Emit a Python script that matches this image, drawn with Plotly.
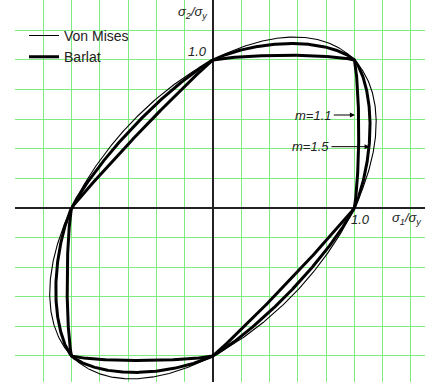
import numpy as np
import plotly.graph_objects as go

# Yield-function exponents: m = 2 reproduces the von Mises ellipse,
# smaller m gives the Barlat (1989, isotropic) loci labelled on the plot.
VON_MISES_EXPONENT = 2.0
BARLAT_EXPONENTS = [1.1, 1.5]
BARLAT_LABELS = ["m=1.1", "m=1.5"]
# Where each label arrow starts and ends (normalised stress units).
ARROW_TAIL_X = [0.855, 0.838]
ARROW_TIP_X = [1.004, 1.108]
ARROW_Y = [0.628, 0.414]

N_POINTS = 1441


def yield_locus(m, n=N_POINTS):
    """Return s1, s2 on |s1|^m + |s2|^m + |s1 - s2|^m = 2 (stresses / sigma_y)."""
    theta = np.linspace(0.0, 2.0 * np.pi, n)
    c, s = np.cos(theta), np.sin(theta)
    f = np.abs(c) ** m + np.abs(s) ** m + np.abs(c - s) ** m
    r = (2.0 / f) ** (1.0 / m)
    return r * c, r * s


FONT = "Arial, Liberation Sans, sans-serif"
TEXT_FONT = dict(family=FONT, size=13, color="#222")
fig = go.Figure()

x_vm, y_vm = yield_locus(VON_MISES_EXPONENT)
fig.add_trace(go.Scatter(x=x_vm, y=y_vm, mode="lines", name="Von Mises",
                         line=dict(color="black", width=1.1)))

for i, m in enumerate(BARLAT_EXPONENTS):
    xb, yb = yield_locus(m)
    fig.add_trace(go.Scatter(x=xb, y=yb, mode="lines", name="Barlat",
                             legendgroup="barlat", showlegend=(i == 0),
                             line=dict(color="black", width=3)))

annotations = []
for label, tx, hx, ay in zip(BARLAT_LABELS, ARROW_TAIL_X, ARROW_TIP_X, ARROW_Y):
    annotations.append(dict(x=hx, y=ay, ax=tx, ay=ay, xref="x", yref="y",
                            axref="x", ayref="y", text=f"<i>{label}</i>",
                            xanchor="right", yanchor="middle", font=TEXT_FONT,
                            showarrow=True, arrowhead=2, arrowsize=1, arrowwidth=1,
                            arrowcolor="black"))

annotations += [
    dict(x=-0.03, y=1.06, xref="x", yref="y", text="<i>1.0</i>", showarrow=False,
         xanchor="right", yanchor="middle", font=TEXT_FONT),
    dict(x=1.047, y=-0.075, xref="x", yref="y", text="<i>1.0</i>", showarrow=False,
         xanchor="center", yanchor="middle", font=TEXT_FONT),
    dict(x=-0.03, y=1.32, xref="x", yref="y", text="<i>σ<sub>2</sub>/σ<sub>y</sub></i>",
         showarrow=False, xanchor="right", yanchor="middle", font=TEXT_FONT),
    dict(x=1.485, y=-0.07, xref="x", yref="y", text="<i>σ<sub>1</sub>/σ<sub>y</sub></i>",
         showarrow=False, xanchor="right", yanchor="middle", font=TEXT_FONT),
]

GRID = "rgb(125,235,125)"
axis_common = dict(showgrid=True, gridcolor=GRID, gridwidth=1.4, dtick=0.2, tick0=0,
                   zeroline=True, zerolinecolor="#222", zerolinewidth=1.5,
                   showticklabels=False, ticks="", showline=False, fixedrange=True)

fig.update_layout(
    width=425, height=385,
    margin=dict(l=15, r=0, t=0, b=3),
    paper_bgcolor="white", plot_bgcolor="white",
    xaxis=dict(range=[-1.4, 1.5], **axis_common),
    yaxis=dict(range=[-1.176, 1.405], **axis_common),
    showlegend=True,
    legend=dict(x=0.022, y=0.948, xanchor="left", yanchor="top",
                bgcolor="rgba(0,0,0,0)", borderwidth=0, itemwidth=30,
                font=dict(family=FONT, size=14, color="#222"), tracegroupgap=0),
    annotations=annotations,
)

fig.write_html("out.html")
